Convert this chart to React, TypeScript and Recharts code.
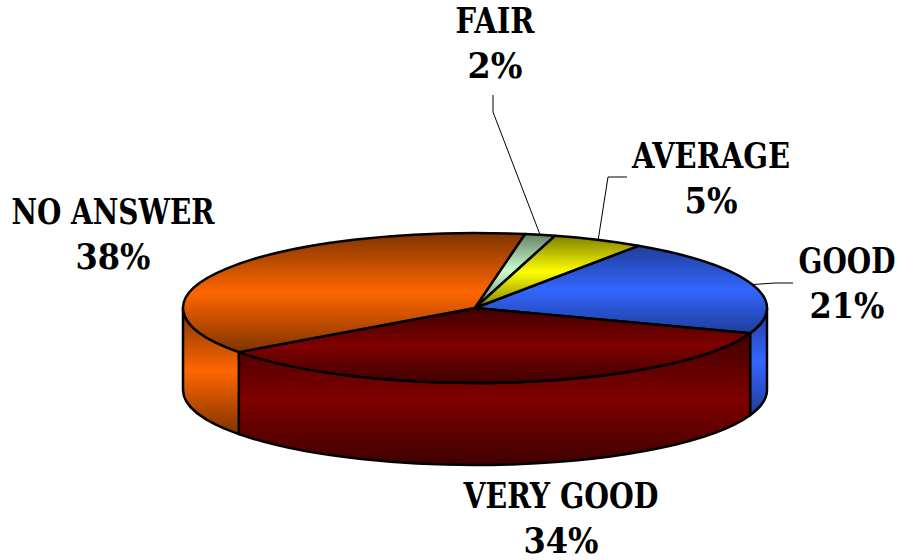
import { PieChart, Pie } from "recharts";

const categories = ["GOOD", "VERY GOOD", "NO ANSWER", "FAIR", "AVERAGE"];
// slice sizes as measured on the drawing
const shares = [21, 34.55, 37.75, 1.67, 5.03];
// percentages as printed on the labels
const printed = ["21%", "34%", "38%", "2%", "5%"];
const data = categories.map((name, i) => ({ name, value: shares[i] }));

const baseColors = ["#3366FF", "#800000", "#FF6600", "#CCFFCC", "#FFFF00"];
const edgeColors = ["#1F3D99", "#3F0000", "#7F3300", "#668066", "#808000"];

// label text centre + baseline, text widths, and the leader line bend points
const labelLayout = [
  { x: 847, y: 273, nameW: 96, pctW: 75, line: [[775, 283], [793, 283]], squeeze: 0.889 },
  { x: 561, y: 508, nameW: 195, pctW: 75, line: [] },
  { x: 113, y: 224, nameW: 203, pctW: 75, line: [] },
  { x: 495, y: 33, nameW: 79, pctW: 55, line: [[493, 112], [493, 95]] },
  { x: 711, y: 168, nameW: 158, pctW: 53, line: [[608, 177], [627, 177]] },
];

const CX = 475;
const CY = 308;
const RX = 292;
const RY = 75;
const DEPTH = 82;
const RAD = Math.PI / 180;

const px = (a: number) => CX + RX * Math.cos(a * RAD);
const py = (a: number) => CY - RY * Math.sin(a * RAD);

function TopSlice(props: any) {
  const { startAngle, endAngle, index } = props;
  const large = Math.abs(startAngle - endAngle) > 180 ? 1 : 0;
  const d = `M${CX},${CY} L${px(startAngle)},${py(startAngle)} A${RX},${RY} 0 ${large} 1 ${px(endAngle)},${py(endAngle)} Z`;
  return <path d={d} fill={`url(#slice${index})`} stroke="#000" strokeWidth={2.5} strokeLinejoin="round" />;
}

function WallSlice(props: any) {
  const { startAngle, endAngle, index } = props;
  // only the part in front (between 0 and -180) can be seen
  const hi = Math.min(startAngle, 0);
  const lo = Math.max(endAngle, -180);
  if (hi <= lo) return <g />;
  const d =
    `M${px(hi)},${py(hi)} A${RX},${RY} 0 0 1 ${px(lo)},${py(lo)} ` +
    `L${px(lo)},${py(lo) + DEPTH} A${RX},${RY} 0 0 0 ${px(hi)},${py(hi) + DEPTH} Z`;
  return <path d={d} fill={`url(#slice${index})`} stroke="#000" strokeWidth={2.5} strokeLinejoin="round" />;
}

const textStyle = {
  textAnchor: "middle" as const,
  fontFamily: "'DejaVu Serif Condensed', 'DejaVu Serif', serif",
  fontWeight: 700,
  fontSize: 35,
  fill: "#000",
  lengthAdjust: "spacingAndGlyphs" as const,
};

function SliceLabel(props: any) {
  const { index, startAngle, endAngle } = props;
  const layout = labelLayout[index];
  const mid = (startAngle + endAngle) / 2;
  const pts = [[px(mid), py(mid)], ...layout.line];
  return (
    <g>
      {layout.line.length > 0 && (
        <polyline points={pts.map((p) => p.join(",")).join(" ")} fill="none" stroke="#000" strokeWidth={1} />
      )}
      {layout.squeeze ? (
        // GOOD sits against the right edge, so it is scaled rather than fitted by textLength
        <text transform={`translate(${layout.x},${layout.y}) scale(${layout.squeeze},1)`} {...textStyle}>
          {categories[index]}
        </text>
      ) : (
        <text x={layout.x} y={layout.y} textLength={layout.nameW} {...textStyle}>
          {categories[index]}
        </text>
      )}
      <text x={layout.x} y={layout.y + 45} textLength={layout.pctW} {...textStyle}>
        {printed[index]}
      </text>
    </g>
  );
}

export default function App() {
  return (
    <div style={{ position: "absolute", left: 0, top: 0, width: 898, height: 560, background: "#fff" }}>
      <PieChart width={898} height={560} margin={{ top: 0, right: 0, bottom: 0, left: 0 }}>
        <defs>
          {baseColors.map((c, i) => (
            <linearGradient key={i} id={`slice${i}`} x1="0" y1="0" x2="0" y2="1">
              <stop offset="0%" stopColor={edgeColors[i]} />
              <stop offset="50%" stopColor={c} />
              <stop offset="100%" stopColor={edgeColors[i]} />
            </linearGradient>
          ))}
        </defs>
        <Pie
          data={data}
          dataKey="value"
          nameKey="name"
          cx={CX}
          cy={CY}
          outerRadius={RX}
          startAngle={56}
          endAngle={-304}
          shape={WallSlice}
          isAnimationActive={false}
        />
        <Pie
          data={data}
          dataKey="value"
          nameKey="name"
          cx={CX}
          cy={CY}
          outerRadius={RX}
          startAngle={56}
          endAngle={-304}
          shape={TopSlice}
          label={SliceLabel}
          labelLine={false}
          isAnimationActive={false}
        />
      </PieChart>
    </div>
  );
}
